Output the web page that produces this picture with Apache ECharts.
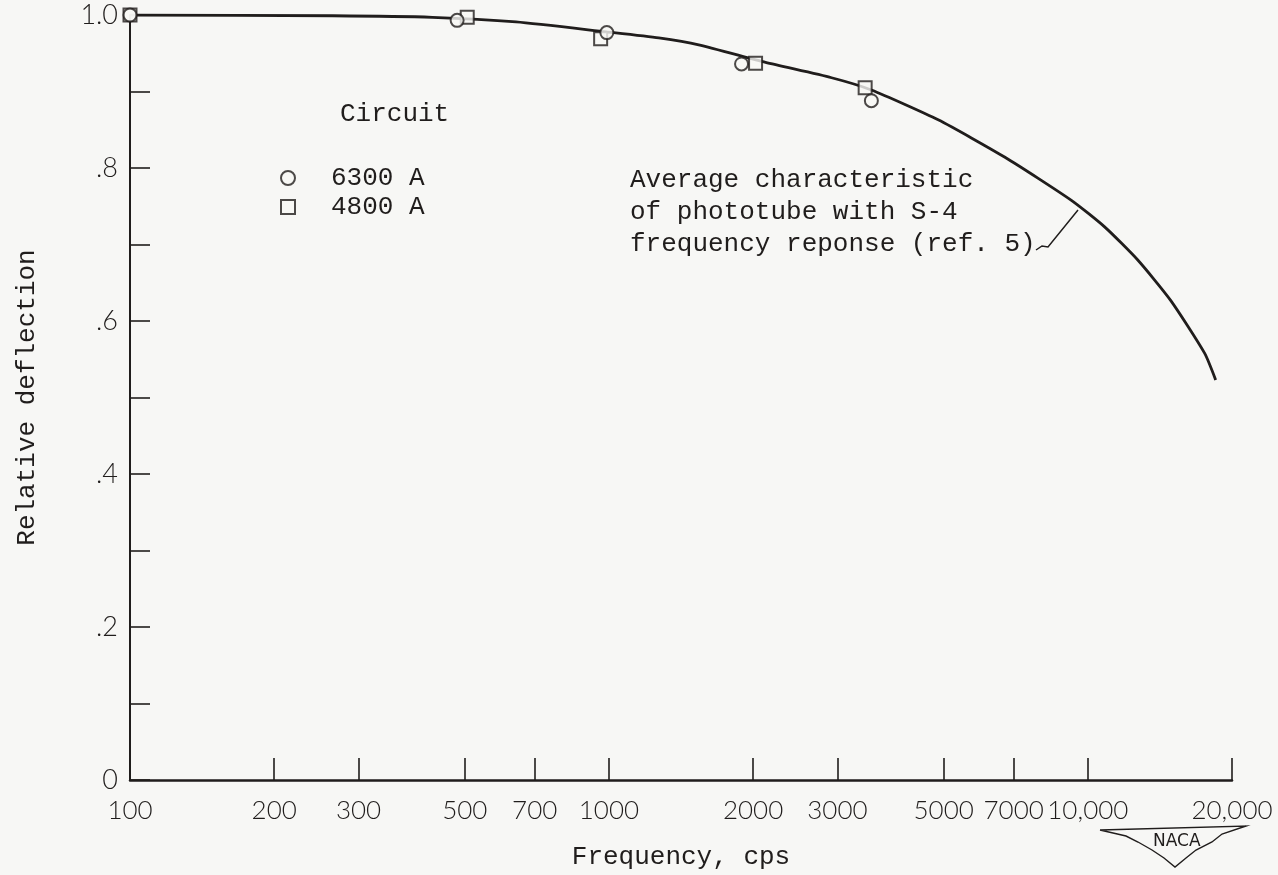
<!DOCTYPE html>
<html><head><meta charset="utf-8">
<script src="https://cdn.jsdelivr.net/npm/echarts@6/dist/echarts.min.js"></script>
<style>html,body{margin:0;padding:0;background:#f7f7f5;} #c{width:1278px;height:875px;}</style>
</head><body><div id="c"></div>
<script>
// ---- data ----
const curveFreq  = [100, 265, 428, 640, 986, 1271, 1540, 2124, 2917, 3532, 4870, 6714, 9225, 10840, 12700, 14890, 17530, 18490];
const curveValue = [1.0, 0.999, 0.997, 0.991, 0.978, 0.970, 0.961, 0.938, 0.918, 0.902, 0.863, 0.814, 0.758, 0.723, 0.680, 0.627, 0.558, 0.523];
const circleFreq  = [100, 482, 990, 1892, 3532];
const circleValue = [1.0, 0.993, 0.977, 0.936, 0.888];
const squareFreq  = [100, 506, 961, 2024, 3428];
const squareValue = [1.0, 0.997, 0.969, 0.937, 0.905];
const xTicks = [100, 200, 300, 500, 700, 1000, 2000, 3000, 5000, 7000, 10000, 20000];
const xTickLabels = ['100', '200', '300', '500', '700', '1000', '2000', '3000', '5000', '7000', '10,000', '20,000'];
const yLabelValues = [0, 0.2, 0.4, 0.6, 0.8, 1.0];
const yTickLabels = ['0', '.2', '.4', '.6', '.8', '1.0'];
const seriesNames = ['6300 A', '4800 A'];
const legendTitle = 'Circuit';
const noteLines = ['Average characteristic', 'of phototube with S-4', 'frequency reponse (ref. 5)'];
const xName = 'Frequency, cps';
const yName = 'Relative deflection';

const ink = '#201d1c';
const bg = '#f7f7f5';
const mono = '"Liberation Mono", "DejaVu Sans Mono", monospace';
const sans = 'Lato, "DejaVu Sans", sans-serif';

const zip = (a, b) => a.map((v, i) => [v, b[i]]);

function xLabel(v) {
  for (let i = 0; i < xTicks.length; i++) {
    if (Math.abs(Math.log10(v) - Math.log10(xTicks[i])) < 0.005) return xTickLabels[i];
  }
  return '';
}
function yLabel(v) {
  for (let i = 0; i < yLabelValues.length; i++) {
    if (Math.abs(v - yLabelValues[i]) < 1e-6) return yTickLabels[i];
  }
  return '';
}

const chart = echarts.init(document.getElementById('c'), null, {renderer: 'canvas'});
const option = {
  backgroundColor: bg,
  animation: false,
  grid: {left: 130, right: 46, top: 15, bottom: 95, containLabel: false},
  xAxis: {
    type: 'log', logBase: 10, min: 100, max: 20000,
    name: xName, nameLocation: 'middle', nameGap: 64,
    nameTextStyle: {fontFamily: mono, fontSize: 26, color: ink},
    axisLine: {show: true, lineStyle: {color: ink, width: 2.5}},
    axisTick: {show: true, inside: true, length: 22, customValues: xTicks, lineStyle: {color: ink, width: 1.6}},
    minorTick: {show: false},
    axisLabel: {customValues: xTicks, formatter: xLabel, margin: 18, fontFamily: sans, fontWeight: 300, fontSize: 26, color: ink},
    splitLine: {show: false}
  },
  yAxis: {
    type: 'value', min: 0, max: 1, interval: 0.1,
    name: yName, nameLocation: 'middle', nameGap: 90, nameRotate: 90,
    nameTextStyle: {fontFamily: mono, fontSize: 26, color: ink},
    axisLine: {show: true, lineStyle: {color: ink, width: 2}},
    axisTick: {show: true, inside: true, length: 20, lineStyle: {color: ink, width: 1.6}},
    axisLabel: {customValues: yLabelValues, formatter: yLabel, margin: 12, fontFamily: sans, fontWeight: 300, fontSize: 27, color: ink},
    splitLine: {show: false}
  },
  legend: {
    data: seriesNames, orient: 'vertical', left: 275, top: 160,
    itemWidth: 14, itemHeight: 14, itemGap: 3,
    textStyle: {fontFamily: mono, fontSize: 26, color: ink, padding: [0, 0, 0, 31]}
  },
  series: [
    {
      type: 'line', name: 'curve', data: zip(curveFreq, curveValue),
      smooth: 0.2, showSymbol: false, symbol: 'none',
      lineStyle: {color: ink, width: 2.8}, z: 1, silent: true
    },
    {
      type: 'scatter', name: seriesNames[1], data: zip(squareFreq, squareValue),
      symbol: 'rect', symbolSize: 13, clip: false,
      itemStyle: {color: bg, borderColor: ink, borderWidth: 2}, z: 3
    },
    {
      type: 'scatter', name: seriesNames[0], data: zip(circleFreq, circleValue),
      symbol: 'circle', symbolSize: 13, clip: false,
      itemStyle: {color: bg, borderColor: ink, borderWidth: 2}, z: 4
    }
  ],
  graphic: [
    {type: 'text', left: 340, top: 101, style: {text: legendTitle, font: '26px ' + mono, fill: ink}},
    {type: 'text', left: 630, top: 164, style: {text: noteLines.join('\n'), font: '26px ' + mono, lineHeight: 32, fill: ink}},
    {type: 'polyline', shape: {points: [[1036, 250], [1042, 246], [1048, 247], [1078, 210]]}, style: {stroke: ink, lineWidth: 1.5, fill: null}},
    {type: 'polyline', shape: {points: [[1100, 830], [1246, 826], [1222, 834], [1212, 842], [1196, 850], [1186, 858], [1175, 867], [1164, 858], [1152, 850], [1138, 842], [1126, 836], [1100, 830]]},
     style: {stroke: ink, lineWidth: 1.4, fill: null}},
    {type: 'text', left: 1153, top: 833, style: {text: 'NACA', font: '17px "DejaVu Sans", sans-serif', fill: ink}}
  ]
};
chart.setOption(option);
</script>
</body></html>
